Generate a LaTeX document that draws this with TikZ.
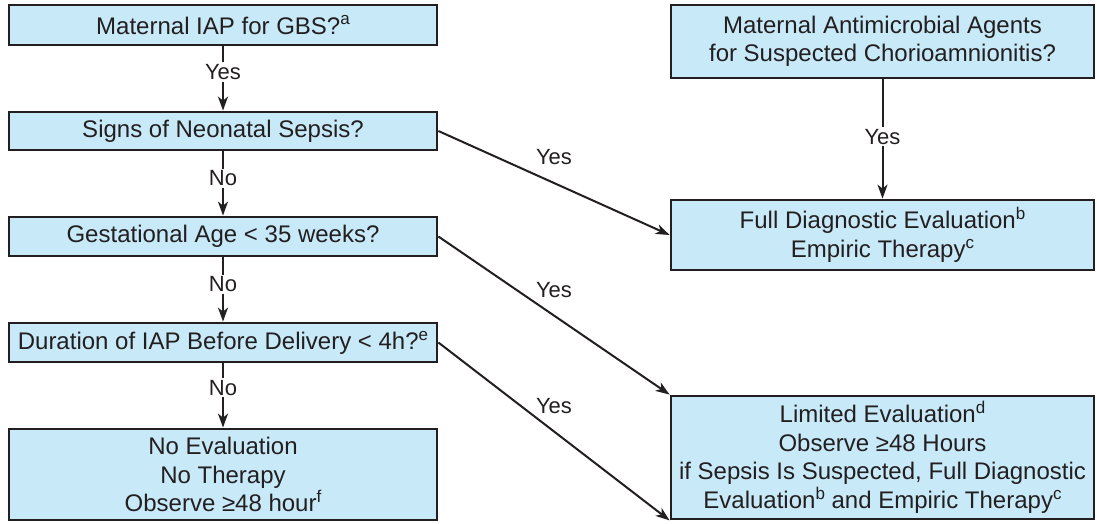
\documentclass[tikz,border=0pt]{standalone}
\usepackage{fontspec}
\setmainfont{Liberation Sans}
\usetikzlibrary{arrows.meta}
\definecolor{boxfill}{RGB}{199,233,248}
\definecolor{ink}{RGB}{35,31,32}
\newcommand\fnsup[1]{\raisebox{0.38em}{\fontsize{17}{17}\selectfont #1}}
\tikzset{
  flowbox/.style={draw=ink, line width=2.8pt, fill=boxfill, inner sep=0pt, align=center,
    font=\fontsize{24}{28.5}\selectfont, text=ink},
  conn/.style={draw=ink, line width=2pt, -{Stealth[length=14pt,width=10pt,inset=4pt]}},
  lbl/.style={font=\fontsize{22}{26}\selectfont, text=ink, fill=white, inner sep=2pt},
  dlbl/.style={font=\fontsize{22}{26}\selectfont, text=ink, inner sep=0pt}
}
\begin{document}
\begin{tikzpicture}[x=1pt,y=-1pt]
\useasboundingbox (0,0) rectangle (1097,523);
\node[flowbox, minimum width=428, minimum height=40] (l1) at (223,25) {Maternal IAP for GBS?\fnsup{a}};
\node[flowbox, minimum width=428, minimum height=38] (l2) at (223,131) {Signs of Neonatal Sepsis?};
\node[flowbox, minimum width=428, minimum height=39] (l3) at (223,236.5) {Gestational Age < 35 weeks?};
\node[flowbox, minimum width=428, minimum height=39] (l4) at (223,342.5) {Duration of IAP Before Delivery < 4h?\fnsup{e}};
\node[flowbox, minimum width=428, minimum height=91] (l5) at (223,474.5) {No Evaluation\\No Therapy\\Observe ≥48 hour\fnsup{f}};
\node[flowbox, minimum width=423, minimum height=73] (r1) at (882.5,41.5) {Maternal Antimicrobial Agents\\for Suspected Chorioamnionitis?};
\node[flowbox, minimum width=423, minimum height=70] (r2) at (882.5,235) {Full Diagnostic Evaluation\fnsup{b}\\Empiric Therapy\fnsup{c}};
\node[flowbox, minimum width=423, minimum height=123] (r3) at (882.5,457.5) {Limited Evaluation\fnsup{d}\\Observe ≥48 Hours\\if Sepsis Is Suspected, Full Diagnostic\\Evaluation\fnsup{b} and Empiric Therapy\fnsup{c}};

\draw[conn] (l1) -- node[lbl, pos=0.4] {Yes} (l2);
\draw[conn] (l2) -- node[lbl, pos=0.42] {No} (l3);
\draw[conn] (l3) -- node[lbl, pos=0.42] {No} (l4);
\draw[conn] (l4) -- node[lbl, pos=0.38] {No} (l5);
\draw[conn] (r1) -- node[lbl, pos=0.48] {Yes} (r2);

\draw[conn] (l2.east) -- node[dlbl, midway, above=17pt] {Yes} (r2.west);
\draw[conn] (l3.east) -- node[dlbl, midway, above=17pt] {Yes} (r3.north west);
\draw[conn] (l4.east) -- node[dlbl, midway, above=17pt] {Yes} (r3.south west);
\end{tikzpicture}
\end{document}
